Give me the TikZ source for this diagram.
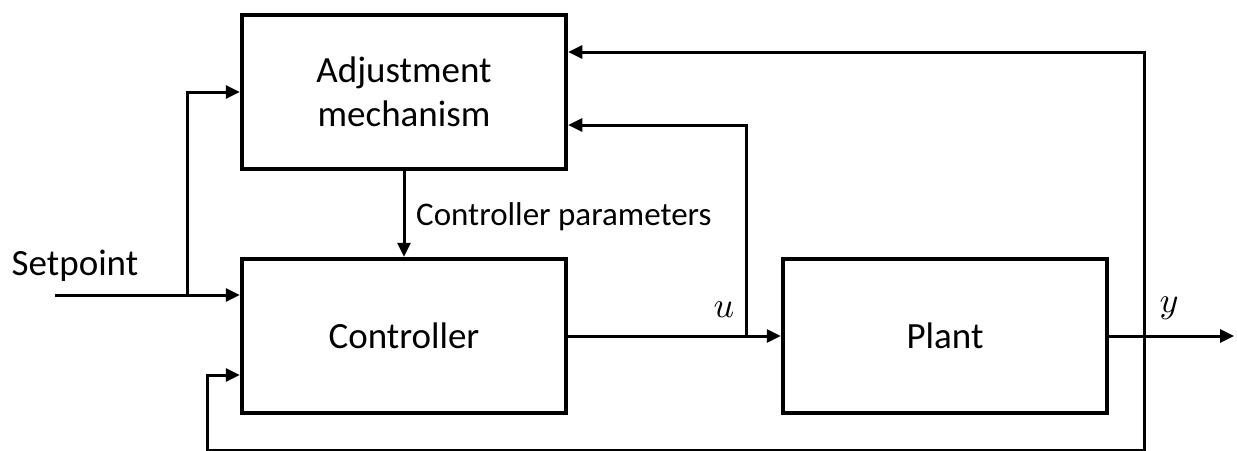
\documentclass[tikz,border=0pt]{standalone}
\usepackage{fontspec}
\setmainfont{Carlito}
\usetikzlibrary{arrows.meta,calc}
\begin{document}
\begin{tikzpicture}[x=1pt,y=-1pt,
  blk/.style={draw,line width=4.5pt,minimum width=324pt,minimum height=154pt,inner sep=0pt,font=\fontsize{37}{44}\selectfont,align=center},
  conn/.style={line width=3pt},
  arr/.style={conn,-{Triangle[length=14pt,width=13pt]}},
  lbl/.style={inner sep=0pt,font=\fontsize{33}{40}\selectfont},
  mlbl/.style={inner sep=0pt,scale=3.6}]
\useasboundingbox (0,0) rectangle (1237,450);
\node[blk] (adj) at (404,92) {Adjustment\\mechanism};
\node[blk] (ctrl) at (404,336) {Controller};
\node[blk] (plant) at (945,336) {Plant};
\coordinate (sp) at (55,295);
\coordinate (br) at (187,295);
\coordinate (ub) at (746,336);
\coordinate (fb) at (1144,336);
\coordinate (out) at (1234,336);
\coordinate (fbb) at (1144,450.5);
\coordinate (fbl) at (207,450.5);
\node[lbl,font=\fontsize{37}{44}\selectfont] (spl) at (75,266) {Setpoint};
\node[lbl,anchor=west] (cp) at (416,217) {Controller parameters};
\node[mlbl] (ul) at (724,310) {$u$};
\node[mlbl] (yl) at (1169,308) {$y$};
% setpoint
\draw[arr] (sp) -- (sp -| ctrl.west);
\draw[arr] (br) |- (adj.west);
% controller parameters
\draw[arr] (adj.south) -- (ctrl.north);
% u
\draw[arr] (ctrl.east) -- (plant.west);
\draw[arr] (ub) |- ($(adj.east)+(0,33)$);
% output
\draw[arr] (plant.east) -- (out);
% feedback
\draw[arr] (fb) |- ($(adj.east)+(0,-40)$);
\draw[arr] (fb) -- (fbb) -- (fbl) |- ($(ctrl.west)+(0,39)$);
\end{tikzpicture}
\end{document}
